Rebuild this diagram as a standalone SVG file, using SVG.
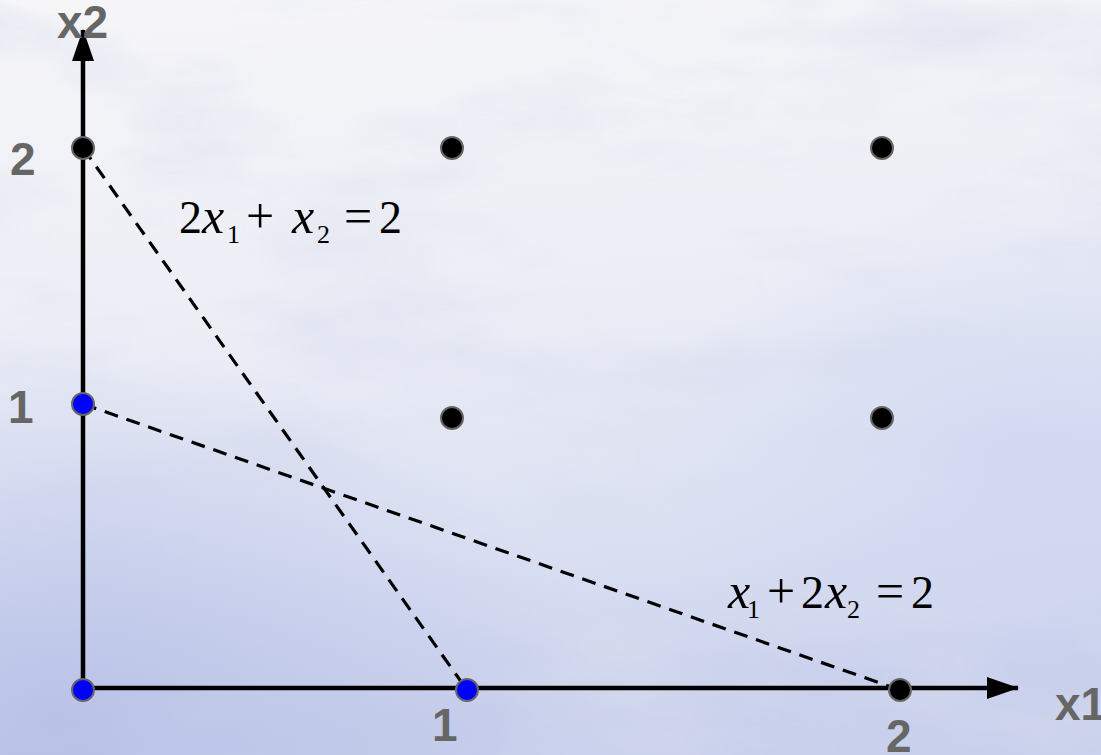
<svg xmlns="http://www.w3.org/2000/svg" width="1101" height="755" viewBox="0 0 1101 755">
<defs>
<linearGradient id="bg" x1="0" y1="0" x2="0.15" y2="1">
<stop offset="0" stop-color="#f6f6f8"/>
<stop offset="0.45" stop-color="#eceef6"/>
<stop offset="0.75" stop-color="#dde2f3"/>
<stop offset="1" stop-color="#c9d0ec"/>
</linearGradient>
<radialGradient id="blueBL" cx="0.05" cy="0.95" r="0.5">
<stop offset="0" stop-color="#b4bee6" stop-opacity="0.8"/>
<stop offset="1" stop-color="#b4bee6" stop-opacity="0"/>
</radialGradient>
<radialGradient id="blueR" cx="0.95" cy="0.6" r="0.35">
<stop offset="0" stop-color="#ccd4f0" stop-opacity="0.7"/>
<stop offset="1" stop-color="#ccd4f0" stop-opacity="0"/>
</radialGradient>
<filter id="tex" x="0" y="0" width="100%" height="100%">
<feTurbulence type="fractalNoise" baseFrequency="0.004 0.012" numOctaves="4" seed="7" result="n"/>
<feColorMatrix type="matrix" values="0 0 0 0 0.70  0 0 0 0 0.73  0 0 0 0 0.86  0 0 0 -2.2 1.2" in="n"/>
</filter>
<marker id="arr" viewBox="0 0 32 22" refX="31" refY="11" markerWidth="32" markerHeight="22" markerUnits="userSpaceOnUse" orient="auto">
<path d="M0,0 L32,11 L0,22 Z" fill="#000"/>
</marker>
<style>
.axis{stroke:#000;stroke-width:4.5;fill:none}
.dash{stroke:#000;stroke-width:3.2;stroke-dasharray:14 9;fill:none}
.pt{stroke:#666;stroke-width:2}
.blk{fill:#000}
.blu{fill:#0000ff}
.lbl{font-family:"Liberation Sans",Arial,sans-serif;font-weight:bold;font-size:46px;fill:#666}
.eq{font-family:"Liberation Serif","Times New Roman",serif;font-size:46px;fill:#000}
.it{font-style:italic;font-size:50px}
.sub{font-size:26px}
.op{font-size:50px}
</style>
</defs>
<rect width="1101" height="755" fill="url(#bg)"/>
<rect width="1101" height="755" filter="url(#tex)" opacity="0.6"/>
<rect width="1101" height="755" fill="url(#blueBL)"/>
<rect width="1101" height="755" fill="url(#blueR)"/>

<g id="connectors">
<line class="dash" x1="83" y1="148" x2="467" y2="690"/>
<line class="dash" x1="83" y1="404" x2="900" y2="690"/>
<line id="x-axis" class="axis" x1="83" y1="688" x2="1018" y2="688" marker-end="url(#arr)"/>
<line id="y-axis" class="axis" x1="83" y1="690" x2="83" y2="30" marker-end="url(#arr)"/>
</g>

<g id="p-0-0"><circle class="pt blu" cx="83" cy="690" r="11"/></g>
<g id="p-1-0"><circle class="pt blu" cx="467" cy="690" r="11"/></g>
<g id="p-2-0"><circle class="pt blk" cx="900" cy="690" r="11"/></g>
<g id="p-0-1"><circle class="pt blu" cx="83" cy="404" r="11"/></g>
<g id="p-1-1"><circle class="pt blk" cx="452" cy="418" r="11"/></g>
<g id="p-2-1"><circle class="pt blk" cx="882" cy="418" r="11"/></g>
<g id="p-0-2"><circle class="pt blk" cx="83" cy="148" r="11"/></g>
<g id="p-1-2"><circle class="pt blk" cx="452" cy="148" r="11"/></g>
<g id="p-2-2"><circle class="pt blk" cx="882" cy="148" r="11"/></g>

<g id="labels">
<text class="lbl" x="57" y="38">x2</text>
<text class="lbl" x="10" y="175">2</text>
<text class="lbl" x="8" y="423">1</text>
<text class="lbl" x="432" y="741">1</text>
<text class="lbl" x="886" y="752">2</text>
<text class="lbl" x="1055" y="720">x1</text>
</g>

<g id="eq1">
<text class="eq" y="233"><tspan x="179">2</tspan><tspan class="it" x="202">x</tspan><tspan class="sub" x="227" y="243">1</tspan><tspan class="op" x="246" y="233">+</tspan><tspan class="it" x="292">x</tspan><tspan class="sub" x="317" y="243">2</tspan><tspan class="op" x="344" y="233">=</tspan><tspan x="379">2</tspan></text>
</g>
<g id="eq2">
<text class="eq" y="608"><tspan class="it" x="728">x</tspan><tspan class="sub" x="747" y="618">1</tspan><tspan class="op" x="767" y="608">+</tspan><tspan x="801">2</tspan><tspan class="it" x="825">x</tspan><tspan class="sub" x="847" y="618">2</tspan><tspan class="op" x="876" y="608">=</tspan><tspan x="911">2</tspan></text>
</g>
</svg>
